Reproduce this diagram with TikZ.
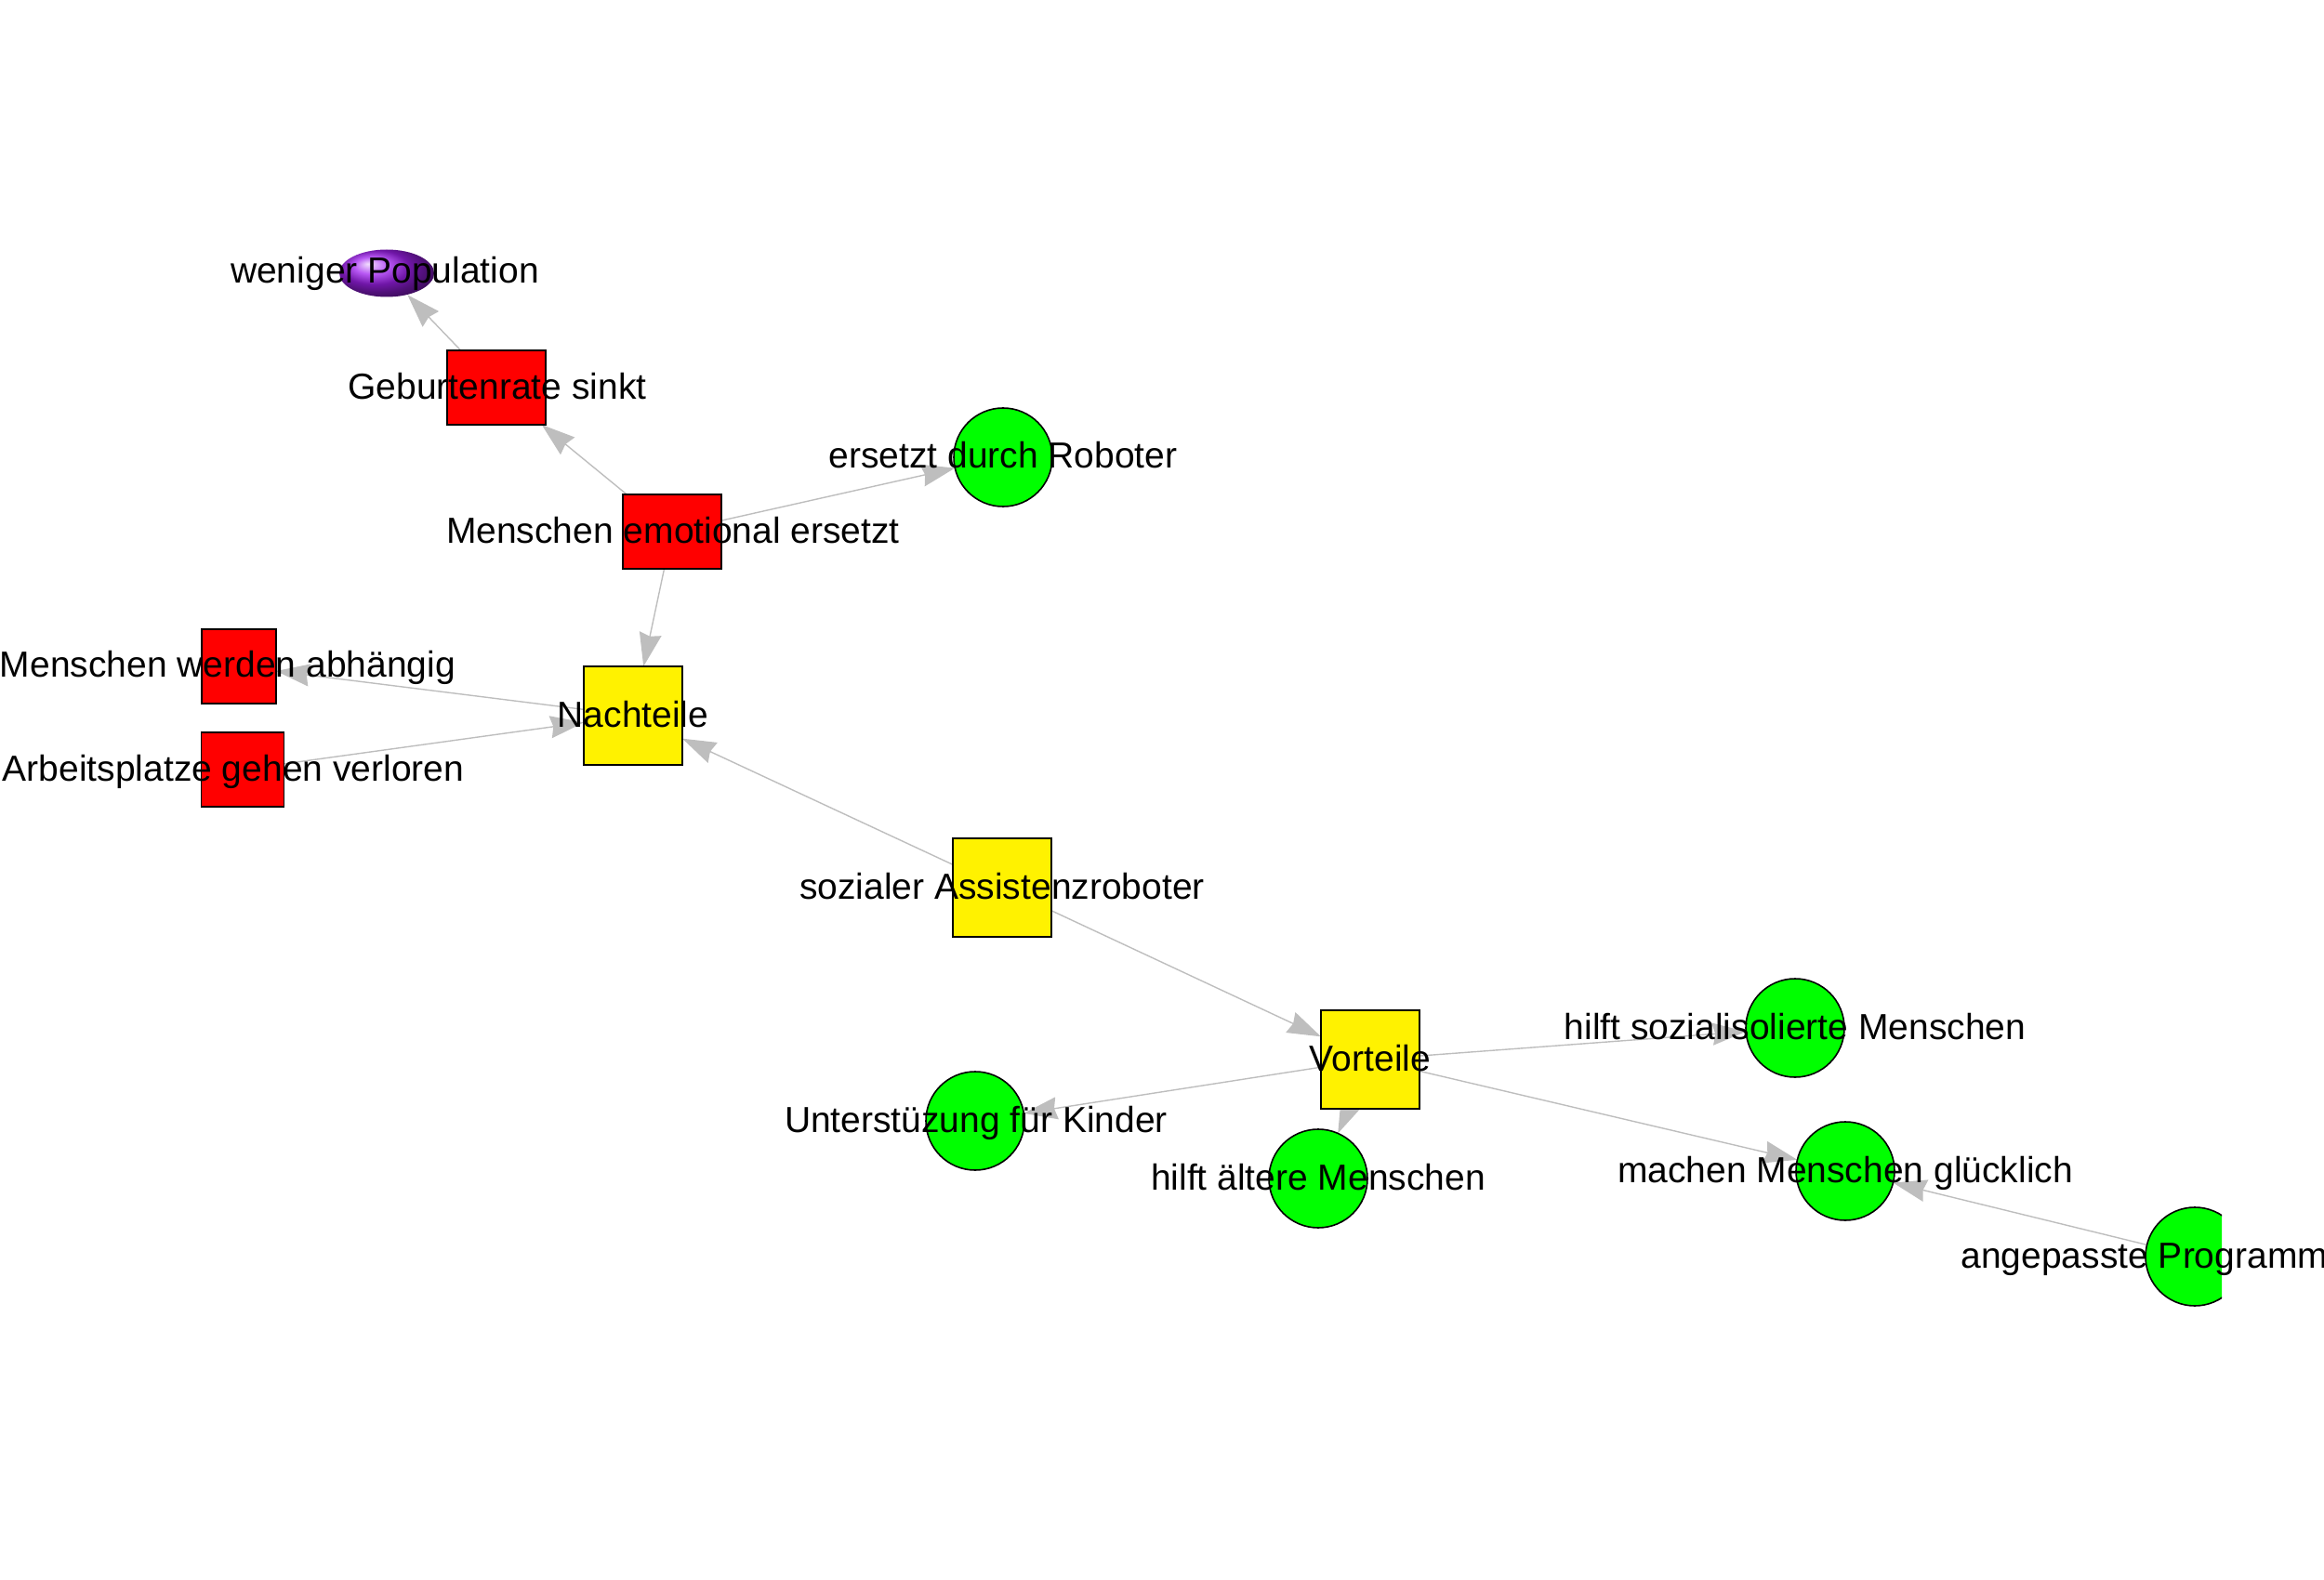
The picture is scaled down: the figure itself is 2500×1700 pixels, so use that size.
\documentclass[tikz,border=0pt]{standalone}
\usepackage{fontspec}
\setmainfont{Liberation Sans}
\usetikzlibrary{arrows.meta,shapes.geometric}
\definecolor{edgegray}{RGB}{190,190,190}
\definecolor{rpurple}{RGB}{160,32,240}
\pgfdeclarelayer{bg}
\pgfsetlayers{bg,main}
\begin{document}
\begin{tikzpicture}[x=0.5pt,y=-0.5pt,
  shp/.style={draw=black,line width=0.8pt,inner sep=0pt,outer sep=0pt},
  rbox/.style={shp,rectangle,fill=red,minimum height=40pt},
  ybox/.style={shp,rectangle,fill=yellow,minimum width=53pt,minimum height=53pt},
  gcirc/.style={shp,circle,fill=green,minimum size=53pt},
  lbl/.style={font=\fontsize{19.5pt}{23pt}\selectfont,inner sep=0pt,anchor=base},
  conn/.style={draw=edgegray,line width=0.7pt,-{Stealth[length=18pt,width=12pt,inset=1.5pt]}}]
\useasboundingbox (0,0) rectangle (2500,1700);
% shapes
\node[ellipse,inner sep=0pt,minimum width=51pt,minimum height=25.5pt,ball color=rpurple] (pop) at (416,294) {};
\node[rbox,minimum width=53pt] (geb) at (534,417) {};
\node[rbox,minimum width=53pt] (emo) at (723,572) {};
\node[gcirc] (rob) at (1079,492) {};
\node[rbox,minimum width=40pt] (abh) at (257,717) {};
\node[rbox,minimum width=44.5pt] (arb) at (261,828) {};
\node[ybox] (nach) at (681,770) {};
\node[ybox] (soz) at (1078,955) {};
\node[ybox] (vor) at (1474,1140) {};
\node[gcirc] (iso) at (1931,1106) {};
\node[gcirc] (kind) at (1049,1206) {};
\node[gcirc] (alt) at (1418,1268) {};
\node[gcirc] (glu) at (1985,1260) {};
\begin{scope}
\clip (0,0) rectangle (2390,1700);
\node[gcirc] (prog) at (2361,1352) {};
\end{scope}
% connectors
\begin{pgfonlayer}{bg}
\draw[conn] (geb) -- (pop);
\draw[conn] (emo) -- (geb);
\draw[conn] (emo) -- (rob);
\draw[conn] (emo) -- (nach);
\draw[conn] (nach) -- (abh);
\draw[conn] (arb) -- (nach);
\draw[conn] (soz) -- (nach);
\draw[conn] (soz) -- (vor);
\draw[conn] (vor) -- (iso);
\draw[conn] (vor) -- (kind);
\draw[conn] (vor) -- (alt);
\draw[conn] (vor) -- (glu);
\draw[conn] (prog) -- (glu);
\end{pgfonlayer}
% labels
\node[lbl] (pop-l) at (414,305) {weniger Population};
\node[lbl] (geb-l) at (535,430) {Geburtenrate sinkt};
\node[lbl] (emo-l) at (724,585) {Menschen emotional ersetzt};
\node[lbl] (rob-l) at (1079,504) {ersetzt durch Roboter};
\node[lbl] (abh-l) at (245,728) {Menschen werden abhängig};
\node[lbl] (arb-l) at (251,840) {Arbeitsplatze gehen verloren};
\node[lbl] (nach-l) at (681,782) {Nachteile};
\node[lbl] (soz-l) at (1078,967) {sozialer Assistenzroboter};
\node[lbl] (vor-l) at (1474,1152) {Vorteile};
\node[lbl] (iso-l) at (1931,1118) {hilft sozialisolierte Menschen};
\node[lbl] (kind-l) at (1050,1218) {Unterstüzung für Kinder};
\node[lbl] (alt-l) at (1418,1280) {hilft ältere Menschen};
\node[lbl] (glu-l) at (1985,1272) {machen Menschen glücklich};
\node[lbl] (prog-l) at (2361,1364) {angepasste Programmierung};
\end{tikzpicture}
\end{document}
